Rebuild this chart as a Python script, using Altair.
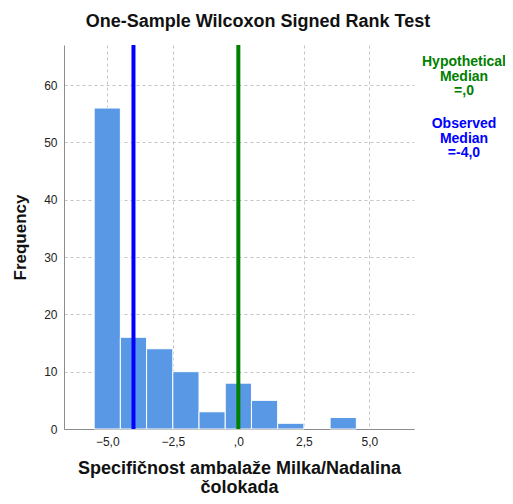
import altair as alt
import pandas as pd

bin_start = [-5.5, -4.5, -3.5, -2.5, -1.5, -0.5, 0.5, 1.5, 2.5, 3.5]
bin_end = [-4.5, -3.5, -2.5, -1.5, -0.5, 0.5, 1.5, 2.5, 3.5, 4.5]
counts = [56, 16, 14, 10, 3, 8, 5, 1, 0, 2]

hyp_median = 0.0
obs_median = -4.0

hyp_lines = ["Hypothetical", "Median", "=,0"]
obs_lines = ["Observed", "Median", "=-4,0"]

x_ticks = [-5.0, -2.5, 0.0, 2.5, 5.0]
y_ticks = [0, 10, 20, 30, 40, 50, 60]

df = pd.DataFrame({"start": bin_start, "end": bin_end, "count": counts})
df = df[df["count"] > 0]

xscale = alt.Scale(domain=[-6.65, 6.7], nice=False, zero=False)
yscale = alt.Scale(domain=[0, 67], nice=False)

label_expr = "datum.value == 0 ? ',0' : replace(format(datum.value, '.1f'), '.', ',')"

bars = alt.Chart(df).mark_bar(color="#5898e4", stroke="white", strokeWidth=1).encode(
    x=alt.X("start:Q", scale=xscale,
            axis=alt.Axis(values=x_ticks, labelExpr=label_expr,
                          title=["Specifičnost ambalaže Milka/Nadalina", "čolokada"],
                          grid=True, gridDash=[3, 3], gridColor="#c4c4c4",
                          ticks=False, domainColor="#8c8c8c", labelColor="#222",
                          labelFontSize=12, labelPadding=7, titleFontSize=18,
                          titleFontWeight="bold", titlePadding=12, titleColor="#111",
                          titleLineHeight=19.5,
                          labelFont="Liberation Sans", titleFont="Liberation Sans")),
    x2="end:Q",
    y=alt.Y("count:Q", scale=yscale,
            axis=alt.Axis(values=y_ticks, title="Frequency",
                          grid=True, gridDash=[3, 3], gridColor="#c4c4c4",
                          ticks=False, domainColor="#8c8c8c", labelColor="#222",
                          labelFontSize=12, labelPadding=7, titleFontSize=17,
                          titleFontWeight="bold", titlePadding=14, titleColor="#111",
                          labelFont="Liberation Sans", titleFont="Liberation Sans")),
    y2=alt.Y2(datum=0),
)

med_df = pd.DataFrame({"x": [obs_median, hyp_median], "kind": ["obs", "hyp"]})
rules = alt.Chart(med_df).mark_rule(strokeWidth=4).encode(
    x=alt.X("x:Q", scale=xscale),
    color=alt.Color("kind:N", scale=alt.Scale(domain=["obs", "hyp"], range=["#0000ff", "#008000"]), legend=None),
)

hyp_df = pd.DataFrame({"t": ["\n".join(hyp_lines)]})
obs_df = pd.DataFrame({"t": ["\n".join(obs_lines)]})

hyp_text = alt.Chart(hyp_df).mark_text(
    fontSize=14, fontWeight="bold", color="#008000", font="Liberation Sans",
    lineBreak="\n", lineHeight=14.5, align="center", baseline="top"
).encode(text="t:N", x=alt.value(400), y=alt.value(10))

obs_text = alt.Chart(obs_df).mark_text(
    fontSize=14, fontWeight="bold", color="#0000ff", font="Liberation Sans",
    lineBreak="\n", lineHeight=14.5, align="center", baseline="top"
).encode(text="t:N", x=alt.value(400), y=alt.value(72))

chart = alt.layer(bars, rules, hyp_text, obs_text).properties(
    width=350, height=384,
    autosize=alt.AutoSizeParams(type="none"),
    padding={"left": 56, "top": 37, "right": 91, "bottom": 67},
    title=alt.TitleParams("One-Sample Wilcoxon Signed Rank Test", fontSize=18,
                          fontWeight="bold", font="Liberation Sans", color="#111",
                          anchor="middle", dx=19, offset=12),
).configure_view(stroke=None)

chart.save("out.html", embed_options={"renderer": "svg", "actions": False})
